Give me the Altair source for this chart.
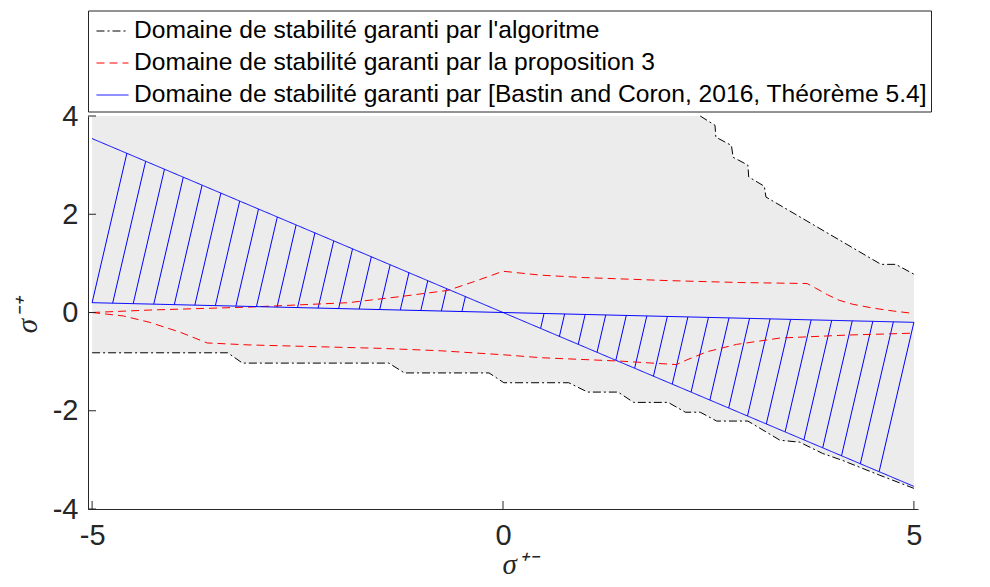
import altair as alt
import pandas as pd

S_ALGO = "Domaine de stabilité garanti par l'algoritme"
S_PROP = "Domaine de stabilité garanti par la proposition 3"
S_BC = "Domaine de stabilité garanti par [Bastin and Coron, 2016, Théorème 5.4]"

# --- domaine garanti par l'algorithme (frontières noires) ---
algo_up_x = [2.40, 2.58, 2.59, 2.78, 2.80, 2.98, 2.99, 3.18, 3.20, 4.60, 4.78, 5.00]
algo_up_y = [4.00, 3.81, 3.57, 3.40, 3.16, 3.00, 2.76, 2.57, 2.35, 0.98, 0.98, 0.78]
algo_lo_x = [-5.00, -3.35, -3.17, -1.39, -1.20, -0.17, 0.01, 0.80, 1.03, 1.40, 1.59,
             2.01, 2.22, 2.40, 2.60, 2.98, 3.37, 3.61, 3.89, 4.13, 4.37, 4.58, 5.00]
algo_lo_y = [-0.82, -0.82, -1.03, -1.03, -1.23, -1.23, -1.43, -1.43, -1.62, -1.62, -1.83,
             -1.83, -2.03, -2.03, -2.21, -2.21, -2.60, -2.64, -2.87, -3.01, -3.17, -3.31, -3.58]

# --- proposition 3 (rouge) ---
prop_up_x = [-5.00, -4.30, -3.09, -1.88, -1.27, -0.67, -0.35, 0.00, 0.46, 1.00, 2.00,
             2.88, 3.70, 3.80, 3.95, 4.09, 4.25, 4.50, 4.75, 5.00]
prop_up_y = [0.00, 0.05, 0.11, 0.20, 0.32, 0.45, 0.63, 0.84, 0.76, 0.71, 0.65,
             0.61, 0.59, 0.50, 0.36, 0.25, 0.17, 0.09, 0.03, -0.02]
prop_lo_x = [-5.00, -4.62, -4.30, -3.93, -3.60, -3.09, -1.48, -0.75, 0.00, 0.46, 1.43,
             2.11, 2.23, 2.48, 2.84, 3.37, 4.18, 5.00]
prop_lo_y = [0.00, -0.07, -0.20, -0.40, -0.62, -0.66, -0.73, -0.78, -0.86, -0.92, -0.99,
             -1.06, -0.97, -0.80, -0.65, -0.52, -0.46, -0.42]

# --- Bastin & Coron (bleu) ---
bc_x = [-5.0, 5.0]
bc_steep_y = [3.54, -3.54]
bc_shallow_y = [0.20, -0.20]
hatch_left = [-5.0, -4.75, -4.5, -4.25, -4.0, -3.75, -3.5, -3.25, -3.0, -2.75,
              -2.5, -2.25, -2.0, -1.75, -1.5, -1.25, -1.0, -0.75, -0.5]
hatch_right = [0.5, 0.75, 1.0, 1.25, 1.5, 1.75, 2.0, 2.25, 2.5, 2.75,
               3.0, 3.25, 3.5, 3.75, 4.0, 4.25, 4.5, 4.75, 5.0]
hatch_slope = 7.19

x_ticks = [-5, 0, 5]
y_ticks = [-4, -2, 0, 2, 4]
Y_TOP = 4

W, H = 830, 393

rows = []
def add(serie, part, xs, ys):
    for i, (x, y) in enumerate(zip(xs, ys)):
        rows.append(dict(serie=serie, part=part, i=i, x=x, y=y))

add(S_ALGO, "algo_up", algo_up_x, algo_up_y)
add(S_ALGO, "algo_lo", algo_lo_x, algo_lo_y)
add(S_PROP, "prop_up", prop_up_x, prop_up_y)
add(S_PROP, "prop_lo", prop_lo_x, prop_lo_y)
add(S_BC, "bc_steep", bc_x, bc_steep_y)
add(S_BC, "bc_shallow", bc_x, bc_shallow_y)
lines = pd.DataFrame(rows)

lo_df = pd.DataFrame({"x": algo_lo_x, "y": algo_lo_y, "top": Y_TOP})
up_df = pd.DataFrame({"x": algo_up_x, "y": algo_up_y, "top": Y_TOP})

m_steep = (bc_steep_y[1] - bc_steep_y[0]) / (bc_x[1] - bc_x[0])
m_sh = (bc_shallow_y[1] - bc_shallow_y[0]) / (bc_x[1] - bc_x[0])
hrows = []
for x0 in hatch_left + hatch_right:
    y0 = m_sh * x0
    x1 = (hatch_slope * x0 - y0) / (hatch_slope - m_steep)
    hrows.append(dict(x=x0, y=y0, x1=x1, y1=m_steep * x1))
hatch_df = pd.DataFrame(hrows)

xs = alt.Scale(domain=[-5.05, 5.05], nice=False, zero=False)
ys = alt.Scale(domain=[-4, 4], nice=False, zero=False)

AX = "#262626"
xaxis = alt.Axis(values=x_ticks, ticks=False, grid=False, domainColor=AX, domainWidth=1,
                 labelFont="Liberation Sans", labelFontSize=29, labelColor=AX, labelPadding=12,
                 labelFlush=False,
                 labelExpr="datum.value < 0 ? '-' + abs(datum.value) : '' + datum.value",
                 title="σ⁺⁻", titleFont="Liberation Serif", titleFontStyle="italic",
                 titleFontWeight="normal", titleFontSize=29, titleColor=AX,
                 titleAlign="left", titleX=414, titleY=64, titleBaseline="alphabetic", zindex=1)
yaxis = alt.Axis(values=y_ticks, ticks=False, grid=False, domainColor=AX, domainWidth=1,
                 labelFont="Liberation Sans", labelFontSize=29, labelColor=AX, labelPadding=10,
                 labelFlush=False,
                 labelExpr="datum.value < 0 ? '-' + abs(datum.value) : '' + datum.value",
                 title="σ⁻⁺", titleFont="Liberation Serif", titleFontStyle="italic",
                 titleFontWeight="normal", titleFontSize=29, titleColor=AX,
                 titleAngle=270, titleAlign="center", titleX=-52, titleY=H / 2 + 3,
                 titleBaseline="alphabetic", zindex=1)

X = alt.X("x:Q", scale=xs, axis=xaxis, title="σ⁺⁻")
Y = alt.Y("y:Q", scale=ys, axis=yaxis, title="σ⁻⁺")

fill = alt.Chart(lo_df).mark_area(color="#ececec", opacity=1).encode(x=X, y=Y, y2="top:Q")
white = alt.Chart(up_df).mark_area(color="white", opacity=1).encode(x=X, y=Y, y2="top:Q")
hatch = alt.Chart(hatch_df).mark_rule(color="#0000ff", strokeWidth=1).encode(
    x=X, y=Y, x2="x1:Q", y2="y1:Q")

dom = [S_ALGO, S_PROP, S_BC]
leg = alt.Legend(title=None, orient="none", legendX=0, legendY=-105.5, direction="vertical",
                 symbolType="stroke", symbolSize=1024, symbolStrokeWidth=1, symbolOffset=4,
                 labelFont="Liberation Sans", labelFontSize=24.6, labelColor="black",
                 labelLimit=1000, labelOffset=5, padding=4, rowPadding=3,
                 strokeColor="#262626", fillColor="white")
curves = alt.Chart(lines).mark_line(strokeWidth=1).encode(
    x=X, y=Y,
    color=alt.Color("serie:N", scale=alt.Scale(domain=dom, range=["#000000", "#ff0000", "#0000ff"]),
                    legend=leg),
    strokeDash=alt.StrokeDash("serie:N", scale=alt.Scale(domain=dom, range=[[8, 3, 2, 3], [8, 5], [1, 0]]),
                              legend=leg),
    detail="part:N",
    order="i:Q",
)

xt = alt.Chart(pd.DataFrame({"x": x_ticks})).mark_rule(color=AX, strokeWidth=1).encode(
    x=X, y=alt.value(H), y2=alt.value(H - 8))
yt = alt.Chart(pd.DataFrame({"y": y_ticks})).mark_rule(color=AX, strokeWidth=1).encode(
    y=Y, x=alt.value(0), x2=alt.value(8))

chart = alt.layer(fill, white, hatch, curves, xt, yt).properties(
    width=W, height=H,
    autosize=alt.AutoSizeParams(type="none"),
    padding={"left": 80, "top": 108, "right": 40, "bottom": 70},
).configure_view(strokeWidth=0)

chart.save("out.html", embed_options={"renderer": "svg", "actions": False})
